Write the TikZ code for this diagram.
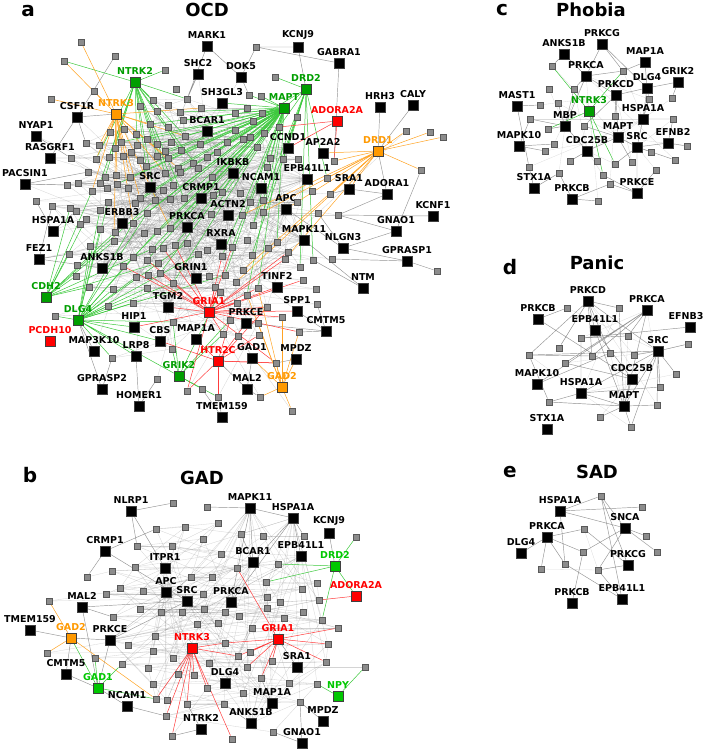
\documentclass[tikz,border=0pt]{standalone}
\usepackage{fontspec}
\setsansfont{DejaVu Sans}
\usepackage{tikz}
\usetikzlibrary{backgrounds}
\definecolor{nodegreen}{HTML}{009E00}
\definecolor{litegreen}{HTML}{00C800}
\definecolor{nodeorange}{HTML}{FF9900}
\definecolor{nodered}{HTML}{FF0000}
\definecolor{edgegreen}{HTML}{3CC83C}
\definecolor{edgeorange}{HTML}{FFA324}
\definecolor{edgered}{HTML}{FF3C3C}
% gray partner genes, x/y in pixels
\newcommand{\ocdgray}{81/42,256/47,115/56,64/61,165/70,275/77,176/89,94/91,249/95,261/96,
51/99,153/100,187/99,168/105,140/106,157/111,201/108,247/108,180/112,235/113,262/113,297/117,
183/120,253/121,150/124,168/127,279/127,124/129,110/132,235/130,264/133,136/134,185/136,250/137,
147/139,243/139,121/142,171/142,227/142,86/143,99/145,137/145,157/144,200/144,115/148,257/147,165/151,181/150,217/152,131/152,
157/156,123/156,168/158,109/157,207/157,71/158,96/159,140/160,270/158,283/159,298/159,193/163,146/166,267/167,178/168,198/168,
88/172,116/175,165/173,180/172,212/177,105/177,130/177,78/183,100/183,67/185,117/184,173/185,
107/188,163/190,92/191,128/188,222/192,240/193,312/191,330/194,184/198,213/195,140/198,155/200,170/199,263/200,
36/201,108/202,135/203,250/202,297/202,52/206,70/208,100/210,76/211,263/212,147/213,318/213,211/214,242/215,338/215,
86/219,133/223,80/224,253/225,100/229,170/228,115/232,157/231,144/233,
114/241,187/243,175/245,247/240,277/242,163/248,152/249,268/248,232/247,207/250,90/246,288/252,69/254,198/254,222/256,252/255,
133/257,285/259,313/260,332/259,147/260,158/263,77/265,123/266,300/267,243/270,
160/273,209/276,225/275,148/275,76/276,136/277,303/280,236/282,173/283,215/287,89/287,147/288,258/288,316/289,113/289,220/292,
247/295,133/303,237/303,317/304,108/306,267/307,55/316,173/322,282/317,230/320,
258/323,223/334,238/336,259/335,299/332,172/349,112/358,276/363,
157/379,202/389,187/391,218/397,260/397,292/411,
334/161,327/178,406/131,430/132,443/137,421/170,437/271}
\newcommand{\gadgray}{173/503,207/507,218/523,156/529,185/527,241/534,263/536,304/536,356/537,203/539,137/546,172/546,221/554,
135/567,237/568,278/564,112/571,87/577,191/577,212/577,266/582,317/583,120/588,143/591,302/589,203/594,106/594,267/597,
49/601,280/602,319/600,140/609,204/609,161/612,182/612,225/612,267/608,303/612,113/617,239/616,284/618,322/620,197/624,
218/623,252/628,338/628,155/636,225/643,128/645,328/644,153/651,250/652,47/653,238/656,95/658,173/658,272/661,209/663,
326/662,122/664,247/667,365/667,148/668,178/674,194/675,261/678,153/684,289/683,317/684,207/688,243/693,156/699,167/700,
300/702,187/704,224/704,166/716,273/732,172/736,232/739}
\newcommand{\phogray}{552/66,623/71,549/89,574/89,540/105,558/103,649/99,672/98,530/119,548/129,584/126,615/116,673/119,
554/144,545/151,570/161,597/161,615/164,632/162,651/152,675/160,687/146,529/167,559/173,603/175,610/184,656/170,598/201}
\newcommand{\pangray}{567/308,619/308,581/338,628/336,559/348,688/344,529/355,592/356,610/353,634/355,565/363,676/374,
660/387,549/402,657/405,600/417,631/427}
\newcommand{\sadgray}{601/496,642/507,584/529,646/536,657/552,583/552,565/564,541/569,598/570}
% hub -> partner edges picked by a condition on \x, \y, \i
\newcommand{\hubfan}[5]{%
  \foreach \x/\y [count=\i] in #1 {%
    \pgfmathtruncatemacro\fanok{#5}%
    \ifnum\fanok=1 \draw[#4] (#3) -- (#2\i);\fi}}

\begin{document}
\begin{tikzpicture}[x=1pt,y=-1pt,
  sq/.style={draw=black!75,line width=0.5pt,minimum size=10pt,inner sep=0pt},
  glab/.style={font=\sffamily\bfseries\fontsize{9.5}{10}\selectfont,inner sep=1.8pt},
  gene/.style={sq,fill=black,label={[glab]above:#1}},
  ggene/.style={sq,fill=nodegreen,label={[glab,text=nodegreen]above:#1}},
  lgene/.style={sq,fill=litegreen,label={[glab,text=litegreen]above:#1}},
  ogene/.style={sq,fill=nodeorange,label={[glab,text=nodeorange]above:#1}},
  rgene/.style={sq,fill=nodered,label={[glab,text=nodered]above:#1}},
  gnode/.style={draw=black!65,fill=black!45,line width=0.4pt,minimum size=6.5pt,inner sep=0pt},
  plabel/.style={font=\sffamily\bfseries\fontsize{20}{22}\selectfont,inner sep=0pt},
  heading/.style={font=\sffamily\bfseries\fontsize{18}{20}\selectfont,inner sep=0pt},
  web/.style={draw=black!70,line width=0.3pt,opacity=0.24},
  faint/.style={draw=black!40,line width=0.3pt,opacity=0.35},
  link/.style={draw=black!42,line width=0.45pt},
  gedge/.style={draw=edgegreen,line width=0.5pt},
  oedge/.style={draw=edgeorange,line width=0.5pt},
  redge/.style={draw=edgered,line width=0.5pt}
]
\useasboundingbox (0,0) rectangle (708,750);

% ---------- a: OCD
\node[plabel] (la) at (28,11) {a};
\node[heading] (ta) at (207,10) {OCD};
\node[gene=MARK1] (aMARK1) at (207,46) {};
\node[gene=SHC2] (aSHC2) at (198,74) {};
\node[gene=DOK5] (aDOK5) at (241,77) {};
\node[gene=KCNJ9] (aKCNJ9) at (298,47) {};
\node[gene=GABRA1] (aGABRA1) at (339,63) {};
\node[gene=SH3GL3] (aSH3GL3) at (222,103) {};
\node[gene=CSF1R] (aCSF1R) at (77,117) {};
\node[gene=NYAP1] (aNYAP1) at (36,136) {};
\node[gene=RASGRF1] (aRASGRF1) at (50,158) {};
\node[gene=PACSIN1] (aPACSIN1) at (25,184) {};
\node[gene=BCAR1,alias=ah4] (aBCAR1) at (207,131) {};
\node[gene=HRH3] (aHRH3) at (380,107) {};
\node[gene=CALY] (aCALY) at (413,105) {};
\node[gene=CCND1,alias=ah13] (aCCND1) at (288,148) {};
\node[gene=AP2A2] (aAP2A2) at (323,153) {};
\node[gene=IKBKB,alias=ah5] (aIKBKB) at (233,173) {};
\node[gene=EPB41L1,alias=ah12] (aEPB41L1) at (307,179) {};
\node[gene=SRC,alias=ah0] (aSRC) at (150,187) {};
\node[gene=NCAM1,alias=ah6] (aNCAM1) at (261,188) {};
\node[gene=SRA1] (aSRA1) at (349,189) {};
\node[gene=ADORA1] (aADORA1) at (387,194) {};
\node[gene=CRMP1,alias=ah2] (aCRMP1) at (201,198) {};
\node[gene=APC,alias=ah10] (aAPC) at (286,209) {};
\node[gene=ACTN2,alias=ah7] (aACTN2) at (228,215) {};
\node[gene=KCNF1] (aKCNF1) at (433,216) {};
\node[gene=ERBB3,alias=ah3] (aERBB3) at (122,223) {};
\node[gene=PRKCA,alias=ah1] (aPRKCA) at (187,227) {};
\node[gene=HSPA1A] (aHSPA1A) at (53,231) {};
\node[gene=GNAO1] (aGNAO1) at (396,231) {};
\node[gene=MAPK11,alias=ah11] (aMAPK11) at (304,240) {};
\node[gene=RXRA,alias=ah8] (aRXRA) at (221,244) {};
\node[gene=NLGN3] (aNLGN3) at (343,248) {};
\node[gene=FEZ1] (aFEZ1) at (39,259) {};
\node[gene=GPRASP1] (aGPRASP1) at (407,261) {};
\node[gene=ANKS1B,alias=ah14] (aANKS1B) at (102,268) {};
\node[sq,fill=black,alias=ah9,label={[glab,xshift=-5pt]above:GRIN1}] (aGRIN1) at (196,278) {};
\node[gene=TINF2] (aTINF2) at (277,287) {};
\node[gene=NTM] (aNTM) at (363,288) {};
\node[gene=TGM2,alias=ah15] (aTGM2) at (168,307) {};
\node[gene=SPP1] (aSPP1) at (297,311) {};
\node[gene=PRKCE] (aPRKCE) at (246,323) {};
\node[gene=HIP1] (aHIP1) at (134,327) {};
\node[gene=CMTM5] (aCMTM5) at (326,331) {};
\node[gene=CBS] (aCBS) at (160,341) {};
\node[gene=MAP1A] (aMAP1A) at (196,339) {};
\node[gene=MAP3K10] (aMAP3K10) at (94,351) {};
\node[gene=LRP8] (aLRP8) at (136,356) {};
\node[gene=GAD1] (aGAD1) at (252,358) {};
\node[gene=MPDZ] (aMPDZ) at (296,359) {};
\node[gene=GPRASP2] (aGPRASP2) at (102,389) {};
\node[gene=MAL2] (aMAL2) at (247,389) {};
\node[gene=HOMER1] (aHOMER1) at (139,406) {};
\node[gene=TMEM159] (aTMEM159) at (222,417) {};
\node[ggene=NTRK2] (aNTRK2) at (135,82) {};
\node[ogene=NTRK3] (aNTRK3) at (116,114) {};
\node[ggene=DRD2] (aDRD2) at (306,89) {};
\node[ggene=MAPT] (aMAPT) at (284,108) {};
\node[rgene=ADORA2A] (aADORA2A) at (337,121) {};
\node[ogene=DRD1] (aDRD1) at (378,151) {};
\node[ggene=CDH2] (aCDH2) at (46,297) {};
\node[rgene=GRIA1] (aGRIA1) at (209,312) {};
\node[ggene=DLG4] (aDLG4) at (78,320) {};
\node[rgene=PCDH10] (aPCDH10) at (50,341) {};
\node[rgene=HTR2C] (aHTR2C) at (218,361) {};
\node[ggene=GRIK2] (aGRIK2) at (179,376) {};
\node[ogene=GAD2] (aGAD2) at (282,387) {};
\foreach \x/\y [count=\i] in \ocdgray {\node[gnode,alias=o-\x-\y] (o\i) at (\x,\y) {}; \xdef\ocdN{\i}}

% ---------- b: GAD
\node[plabel] (lb) at (30,475) {b};
\node[heading] (tb) at (202,478) {GAD};
\node[gene=NLRP1] (bNLRP1) at (131,511) {};
\node[gene=CRMP1] (bCRMP1) at (105,551) {};
\node[gene=ITPR1,alias=bh3] (bITPR1) at (165,568) {};
\node[gene=APC,alias=bh1] (bAPC) at (166,592) {};
\node[gene=SRC,alias=bh0] (bSRC) at (187,601) {};
\node[gene=PRKCA,alias=bh2] (bPRKCA) at (231,602) {};
\node[gene=MAL2] (bMAL2) at (82,607) {};
\node[gene=TMEM159] (bTMEM159) at (30,630) {};
\node[gene=PRKCE,alias=bh11] (bPRKCE) at (110,640) {};
\node[gene=CMTM5] (bCMTM5) at (66,674) {};
\node[gene=NCAM1] (bNCAM1) at (127,706) {};
\node[gene=DLG4,alias=bh8] (bDLG4) at (225,683) {};
\node[gene=NTRK2] (bNTRK2) at (201,729) {};
\node[gene=MAPK11,alias=bh5] (bMAPK11) at (250,508) {};
\node[gene=HSPA1A,alias=bh6] (bHSPA1A) at (293,518) {};
\node[gene=KCNJ9] (bKCNJ9) at (329,533) {};
\node[gene=BCAR1,alias=bh4] (bBCAR1) at (253,562) {};
\node[gene=EPB41L1,alias=bh7] (bEPB41L1) at (301,556) {};
\node[gene=SRA1] (bSRA1) at (297,667) {};
\node[gene=MAP1A,alias=bh9] (bMAP1A) at (272,703) {};
\node[gene=ANKS1B,alias=bh10] (bANKS1B) at (251,723) {};
\node[gene=MPDZ] (bMPDZ) at (323,721) {};
\node[gene=GNAO1] (bGNAO1) at (302,743) {};
\node[ogene=GAD2] (bGAD2) at (71,638) {};
\node[rgene=NTRK3] (bNTRK3) at (192,648) {};
\node[lgene=GAD1] (bGAD1) at (98,688) {};
\node[lgene=DRD2] (bDRD2) at (335,566) {};
\node[rgene=ADORA2A] (bADORA2A) at (356,596) {};
\node[rgene=GRIA1] (bGRIA1) at (278,639) {};
\node[lgene=NPY] (bNPY) at (338,696) {};
\foreach \x/\y [count=\i] in \gadgray {\node[gnode,alias=p-\x-\y] (p\i) at (\x,\y) {}; \xdef\gadN{\i}}

% ---------- c: Phobia
\node[plabel] (lc) at (502,10) {c};
\node[heading] (tc) at (591,10) {Phobia};
\node[gene=PRKCG] (cPRKCG) at (602,44) {};
\node[gene=ANKS1B] (cANKS1B) at (564,54) {};
\node[gene=MAP1A] (cMAP1A) at (645,62) {};
\node[gene=PRKCA,alias=ch0] (cPRKCA) at (586,76) {};
\node[gene=DLG4] (cDLG4) at (647,88) {};
\node[gene=GRIK2] (cGRIK2) at (678,82) {};
\node[gene=PRKCD,alias=ch1] (cPRKCD) at (616,95) {};
\node[gene=MAST1] (cMAST1) at (517,106) {};
\node[gene=HSPA1A,alias=ch6] (cHSPA1A) at (643,119) {};
\node[gene=MBP,alias=ch2] (cMBP) at (565,126) {};
\node[gene=MAPT,alias=ch3] (cMAPT) at (618,137) {};
\node[gene=SRC,alias=ch4] (cSRC) at (637,147) {};
\node[sq,fill=black,label={[glab,xshift=5pt]above:EFNB2}] (cEFNB2) at (668,143) {};
\node[gene=MAPK10] (cMAPK10) at (519,146) {};
\node[gene=CDC25B,alias=ch5] (cCDC25B) at (587,151) {};
\node[gene=STX1A] (cSTX1A) at (534,188) {};
\node[gene=PRKCB] (cPRKCB) at (572,199) {};
\node[gene=PRKCE] (cPRKCE) at (637,193) {};
\node[ggene=NTRK3] (cNTRK3) at (589,111) {};
\foreach \x/\y [count=\i] in \phogray {\node[gnode,alias=q-\x-\y] (q\i) at (\x,\y) {};}

% ---------- d: Panic
\node[plabel] (ld) at (510,267) {d};
\node[heading] (td) at (597,263) {Panic};
\node[gene=PRKCD,alias=dh0] (dPRKCD) at (588,301) {};
\node[gene=PRKCB] (dPRKCB) at (538,319) {};
\node[gene=PRKCA,alias=dh1] (dPRKCA) at (647,310) {};
\node[gene=EPB41L1] (dEPB41L1) at (595,330) {};
\node[sq,fill=black,label={[glab,xshift=-4pt]above:EFNB3}] (dEFNB3) at (690,327) {};
\node[gene=SRC,alias=dh2] (dSRC) at (658,351) {};
\node[gene=MAPK10] (dMAPK10) at (537,384) {};
\node[gene=CDC25B] (dCDC25B) at (632,379) {};
\node[gene=HSPA1A,alias=dh4] (dHSPA1A) at (581,393) {};
\node[gene=MAPT,alias=dh3] (dMAPT) at (624,406) {};
\node[gene=STX1A] (dSTX1A) at (547,429) {};
\foreach \x/\y [count=\i] in \pangray {\node[gnode,alias=r-\x-\y] (r\i) at (\x,\y) {};}

% ---------- e: SAD
\node[plabel] (le) at (510,472) {e};
\node[heading] (te) at (597,472) {SAD};
\node[gene=HSPA1A] (eHSPA1A) at (560,511) {};
\node[gene=PRKCA] (ePRKCA) at (547,537) {};
\node[gene=DLG4] (eDLG4) at (521,553) {};
\node[gene=SNCA] (eSNCA) at (625,528) {};
\node[gene=PRKCG] (ePRKCG) at (628,565) {};
\node[gene=PRKCB] (ePRKCB) at (572,603) {};
\node[gene=EPB41L1] (eEPB41L1) at (622,599) {};
\foreach \x/\y [count=\i] in \sadgray {\node[gnode,alias=s-\x-\y] (s\i) at (\x,\y) {};}

\begin{pgfonlayer}{background}
% OCD web
\foreach \x/\y [count=\i] in \ocdgray {
  \pgfmathtruncatemacro\incore{((\x-180)/135)*((\x-180)/135)+((\y-220)/130)*((\y-220)/130)<1}
  \ifnum\incore=1
    \pgfmathtruncatemacro\ha{mod(7*\i,16)}
    \pgfmathtruncatemacro\hb{mod(11*\i+5,16)}
    \pgfmathtruncatemacro\hc{mod(3*\i+9,16)}
    \pgfmathtruncatemacro\j{\i+1}
    \pgfmathtruncatemacro\k{\i+11}
    \draw[web] (o\i) -- (ah\ha) (o\i) -- (ah\hb) (o\i) -- (ah\hc);
    \ifnum\j<\ocdN \draw[web] (o\i) -- (o\j);\fi
    \ifnum\k<\ocdN \draw[web] (o\i) -- (o\k);\fi
  \fi
}
\draw[link] (aMARK1) -- (aDOK5) (aMARK1) -- (o-187-99)
  (o-256-47) -- (aKCNJ9) (o-256-47) -- (aGABRA1) (o-256-47) -- (aDOK5)
  (aKCNJ9) -- (aDRD2) (aGABRA1) -- (o-334-161)
  (aHRH3) -- (aDRD1) (aCALY) -- (aDRD1) (aDRD1) -- (aADORA1)
  (aKCNF1) -- (o-338-215) (aGNAO1) -- (o-338-215) (aGNAO1) -- (aNLGN3) (aGNAO1) -- (o-421-170)
  (aGPRASP1) -- (o-437-271) (aGPRASP1) -- (o-332-259) (aGPRASP1) -- (aNLGN3)
  (aNTM) -- (aMAPK11) (aNTM) -- (o-313-260)
  (aCMTM5) -- (o-299-332) (aCMTM5) -- (aSPP1) (aCMTM5) -- (o-317-304) (aCMTM5) -- (aPRKCE)
  (aADORA1) -- (o-338-215) (aADORA1) -- (aSRA1) (aSRA1) -- (o-330-194)
  (aNLGN3) -- (o-318-213) (aNLGN3) -- (aAPC)
  (aSHC2) -- (o-187-99) (aDOK5) -- (o-249-95)
  (aCSF1R) -- (aNTRK3) (aCSF1R) -- (o-86-143) (aCSF1R) -- (o-115-56)
  (aNYAP1) -- (o-71-158) (aRASGRF1) -- (o-71-158) (aRASGRF1) -- (aCSF1R)
  (aPACSIN1) -- (o-67-185) (aPACSIN1) -- (o-88-172)
  (aHSPA1A) -- (o-76-211) (aHSPA1A) -- (o-36-201)
  (aFEZ1) -- (o-69-254) (aFEZ1) -- (aANKS1B) (aFEZ1) -- (o-52-206)
  (aGPRASP2) -- (o-112-358) (aGPRASP2) -- (aDLG4) (aHOMER1) -- (o-157-379) (aHOMER1) -- (aLRP8)
  (aTMEM159) -- (o-218-397) (aTMEM159) -- (o-202-389) (aMAL2) -- (o-260-397) (aMAL2) -- (aHTR2C)
  (aMAL2) -- (aGAD1) (aMAP3K10) -- (aDLG4) (aMPDZ) -- (o-276-363);
\draw[web] (aSHC2) -- (aSRC) (aSHC2) -- (aBCAR1) (aDOK5) -- (aBCAR1) (aSH3GL3) -- (aSRC)
  (aCSF1R) -- (aSRC) (aNYAP1) -- (aSRC) (aRASGRF1) -- (aSRC) (aPACSIN1) -- (aSRC)
  (aPACSIN1) -- (aERBB3) (aHSPA1A) -- (aERBB3) (aHSPA1A) -- (aSRC) (aFEZ1) -- (aPRKCA)
  (aMAP3K10) -- (aSRC) (aLRP8) -- (aSRC) (aHIP1) -- (aPRKCA) (aCBS) -- (aPRKCA)
  (aMAP1A) -- (aSRC) (aGAD1) -- (aPRKCA) (aSPP1) -- (aPRKCA) (aTINF2) -- (aSRC);
\draw[gedge] (aNTRK2) -- (o-64-61) (aNTRK2) -- (o-165-70) (aNTRK2) -- (o-187-99);
\hubfan{\ocdgray}{o}{aNTRK2}{gedge}{\x>95 && \x<210 && \y>95 && \y<230 && mod(\i,3)==0}
\draw[oedge] (aNTRK3) -- (o-81-42) (aNTRK3) -- (o-64-61) (aNTRK3) -- (o-94-91) (aNTRK3) -- (o-51-99) (aNTRK3) -- (o-201-108);
\hubfan{\ocdgray}{o}{aNTRK3}{oedge}{\x>80 && \x<200 && \y>115 && \y<245 && mod(\i,4)==1}
\draw[gedge] (aMAPT) -- (o-249-95) (aMAPT) -- (o-261-96) (aMAPT) -- (aSH3GL3) (aMAPT) -- (o-180-112);
\hubfan{\ocdgray}{o}{aMAPT}{gedge}{\x>115 && \x<285 && \y>112 && \y<300 && mod(\i,2)==1}
\draw[gedge] (aDRD2) -- (o-275-77) (aDRD2) -- (aMAPT) (aDRD2) -- (o-297-117) (aDRD2) -- (o-327-178) (aDRD2) -- (aCCND1);
\hubfan{\ocdgray}{o}{aDRD2}{gedge}{\x>250 && \x<330 && \y>120 && \y<270 && mod(\i,3)==0}
\draw[redge] (aADORA2A) -- (o-334-161) (aADORA2A) -- (aCCND1) (aADORA2A) -- (o-279-127);
\draw[oedge] (aDRD1) -- (o-406-131) (aDRD1) -- (o-430-132) (aDRD1) -- (o-443-137) (aDRD1) -- (o-421-170)
  (aDRD1) -- (aAP2A2) (aDRD1) -- (o-334-161) (aDRD1) -- (o-327-178) (aDRD1) -- (aSRA1) (aDRD1) -- (aAPC);
\hubfan{\ocdgray}{o}{aDRD1}{oedge}{\x>225 && \x<340 && \y>170 && \y<290 && mod(\i,4)==2}
\hubfan{\ocdgray}{o}{aCDH2}{gedge}{\x>55 && \x<175 && \y>185 && \y<310 && mod(\i,3)==0}
\draw[gedge] (aDLG4) -- (aGRIK2) (aDLG4) -- (aCBS) (aDLG4) -- (aLRP8) (aDLG4) -- (aHIP1) (aDLG4) -- (o-55-316);
\hubfan{\ocdgray}{o}{aDLG4}{gedge}{\x>80 && \x<230 && \y>200 && \y<370 && mod(\i,3)==1}
\hubfan{\ocdgray}{o}{aGRIK2}{gedge}{\x>140 && \x<240 && \y>290 && \y<400 && mod(\i,2)==0}
\draw[redge] (aGRIA1) -- (aTINF2) (aGRIA1) -- (aSPP1) (aGRIA1) -- (aTGM2) (aGRIA1) -- (aHIP1);
\hubfan{\ocdgray}{o}{aGRIA1}{redge}{\x>120 && \x<320 && \y>235 && \y<400 && mod(\i,3)==2}
\draw[redge] (aHTR2C) -- (aMAP1A) (aHTR2C) -- (aPRKCE) (aHTR2C) -- (o-276-363) (aHTR2C) -- (aCBS) (aHTR2C) -- (o-187-391);
\hubfan{\ocdgray}{o}{aHTR2C}{redge}{\x>150 && \x<300 && \y>290 && \y<400 && mod(\i,4)==0}
\draw[oedge] (aGAD2) -- (o-260-397) (aGAD2) -- (o-292-411) (aGAD2) -- (o-276-363) (aGAD2) -- (aMPDZ) (aGAD2) -- (aGAD1);
\hubfan{\ocdgray}{o}{aGAD2}{oedge}{\x>240 && \x<320 && \y>280 && \y<340 && mod(\i,2)==1}

% GAD web
\foreach \x/\y [count=\i] in \gadgray {
  \pgfmathtruncatemacro\incore{((\x-215)/125)*((\x-215)/125)+((\y-625)/115)*((\y-625)/115)<1}
  \ifnum\incore=1
    \pgfmathtruncatemacro\ha{mod(5*\i,12)}
    \pgfmathtruncatemacro\hb{mod(7*\i+4,12)}
    \pgfmathtruncatemacro\j{\i+1}
    \pgfmathtruncatemacro\k{\i+9}
    \draw[web] (p\i) -- (bh\ha) (p\i) -- (bh\hb);
    \ifnum\j<\gadN \draw[web] (p\i) -- (p\j);\fi
    \ifnum\k<\gadN \draw[web] (p\i) -- (p\k);\fi
  \fi
}
\draw[link] (bNLRP1) -- (p-173-503) (bNLRP1) -- (p-137-546) (bNLRP1) -- (bITPR1)
  (bCRMP1) -- (p-87-577) (bCRMP1) -- (p-156-529) (bCRMP1) -- (bSRC)
  (bTMEM159) -- (bGAD2) (bMAL2) -- (p-113-617) (bMAL2) -- (bGAD1) (bMAL2) -- (bSRC)
  (bPRKCE) -- (bGAD2) (bPRKCE) -- (bSRC) (bPRKCE) -- (bGAD1) (bCMTM5) -- (bGAD1) (bCMTM5) -- (bGAD2)
  (bNCAM1) -- (p-166-716) (bNCAM1) -- (bGAD1) (bKCNJ9) -- (bDRD2)
  (bMPDZ) -- (p-300-702) (bGNAO1) -- (p-300-702) (bGNAO1) -- (p-273-732)
  (bNTRK2) -- (p-172-736) (bNTRK2) -- (p-187-704) (bANKS1B) -- (p-224-704)
  (bMAPK11) -- (p-207-507) (bMAPK11) -- (bHSPA1A) (bHSPA1A) -- (p-304-536) (bHSPA1A) -- (bEPB41L1)
  (bSRA1) -- (bGRIA1) (bMAP1A) -- (p-261-678) (bBCAR1) -- (p-241-534)
  (bMAPK11) -- (bBCAR1) (bMAPK11) -- (bPRKCA) (bHSPA1A) -- (bPRKCA) (bHSPA1A) -- (bBCAR1);
\draw[gedge] (bDRD2) -- (p-356-537) (bDRD2) -- (p-278-564) (bDRD2) -- (p-266-582) (bDRD2) -- (bADORA2A) (bDRD2) -- (p-322-620);
\draw[redge] (bADORA2A) -- (p-319-600);
\draw[gedge] (bNPY) -- (p-365-667) (bNPY) -- (p-317-684);
\draw[oedge] (bGAD2) -- (p-49-601) (bGAD2) -- (p-47-653) (bGAD2) -- (p-156-699);
\draw[gedge] (bGAD1) -- (bGAD2) (bGAD1) -- (p-95-658) (bGAD1) -- (p-122-664) (bGAD1) -- (p-156-699);
\draw[redge] (bNTRK3) -- (p-172-736) (bNTRK3) -- (p-166-716) (bNTRK3) -- (p-156-699) (bNTRK3) -- (p-187-704)
  (bNTRK3) -- (p-207-688) (bNTRK3) -- (p-178-674) (bNTRK3) -- (p-194-675) (bNTRK3) -- (p-232-739)
  (bNTRK3) -- (p-238-656) (bNTRK3) -- (p-225-643);
\draw[redge] (bGRIA1) -- (p-237-568) (bGRIA1) -- (p-338-628) (bGRIA1) -- (p-328-644) (bGRIA1) -- (p-326-662)
  (bGRIA1) -- (p-272-661) (bGRIA1) -- (p-261-678) (bGRIA1) -- (p-250-652) (bGRIA1) -- (p-238-656)
  (bGRIA1) -- (p-225-643) (bGRIA1) -- (p-247-667);

% Phobia
\foreach \x/\y [count=\i] in \phogray {
  \pgfmathtruncatemacro\ha{mod(3*\i,7)}
  \draw[faint] (q\i) -- (ch\ha);
}
\draw[link] (cPRKCG) -- (q-623-71) (cPRKCG) -- (cPRKCA) (cPRKCG) -- (cDLG4) (cANKS1B) -- (q-552-66) (cANKS1B) -- (cPRKCA)
  (cMAP1A) -- (cDLG4) (cMAP1A) -- (q-623-71) (cGRIK2) -- (cDLG4) (cGRIK2) -- (q-672-98)
  (cPRKCA) -- (q-574-89) (cPRKCA) -- (cPRKCD) (cPRKCA) -- (cMBP) (cPRKCA) -- (q-623-71)
  (cDLG4) -- (q-649-99) (cDLG4) -- (cPRKCD) (cDLG4) -- (cHSPA1A)
  (cMAST1) -- (q-540-105) (cMAST1) -- (q-529-167) (cPRKCD) -- (q-615-116) (cPRKCD) -- (cMAPT)
  (cHSPA1A) -- (cSRC) (cHSPA1A) -- (q-673-119) (cHSPA1A) -- (q-649-99)
  (cMBP) -- (q-548-129) (cMBP) -- (q-558-103) (cMBP) -- (cCDC25B) (cMBP) -- (q-530-119)
  (cMAPT) -- (cSRC) (cMAPT) -- (cCDC25B) (cMAPT) -- (q-632-162)
  (cSRC) -- (cEFNB2) (cSRC) -- (q-651-152) (cSRC) -- (cPRKCE) (cEFNB2) -- (q-687-146) (cEFNB2) -- (q-673-119)
  (cMAPK10) -- (q-554-144) (cMAPK10) -- (q-530-119) (cMAPK10) -- (q-545-151)
  (cCDC25B) -- (q-570-161) (cCDC25B) -- (q-597-161) (cSTX1A) -- (q-559-173) (cSTX1A) -- (q-529-167)
  (cPRKCB) -- (q-598-201) (cPRKCB) -- (q-559-173) (cPRKCB) -- (q-610-184)
  (cPRKCE) -- (q-610-184) (cPRKCE) -- (q-656-170) (cPRKCE) -- (q-603-175)
  (q-584-126) -- (cPRKCD) (q-584-126) -- (cMAPT) (q-574-89) -- (cMBP) (q-615-164) -- (cSRC) (q-675-160) -- (cSRC);
\draw[gedge] (cNTRK3) -- (q-552-66) (cNTRK3) -- (q-623-71) (cNTRK3) -- (q-548-129) (cNTRK3) -- (q-603-175) (cNTRK3) -- (q-615-164);

% Panic
\foreach \x/\y [count=\i] in \pangray {
  \pgfmathtruncatemacro\ha{mod(2*\i,5)}
  \draw[faint] (r\i) -- (dh\ha);
}
\draw[link] (dPRKCB) -- (r-567-308) (dPRKCB) -- (dCDC25B) (dPRKCD) -- (dEPB41L1) (dPRKCD) -- (r-619-308)
  (dPRKCD) -- (r-592-356) (dPRKCD) -- (r-610-353) (dPRKCD) -- (dSRC) (dPRKCD) -- (r-529-355) (dPRKCD) -- (r-559-348)
  (dPRKCA) -- (r-628-336) (dPRKCA) -- (r-592-356) (dPRKCA) -- (dMAPK10) (dPRKCA) -- (r-565-363) (dPRKCA) -- (dMAPT)
  (r-619-308) -- (dMAPT) (dEPB41L1) -- (dMAPT) (dEPB41L1) -- (dCDC25B) (dEFNB3) -- (r-581-338)
  (dSRC) -- (r-688-344) (dSRC) -- (r-676-374) (dSRC) -- (r-660-387) (dSRC) -- (r-657-405) (dSRC) -- (dMAPT)
  (dSRC) -- (r-631-427) (dSRC) -- (r-634-355) (dSRC) -- (dHSPA1A) (dSRC) -- (r-529-355)
  (r-581-338) -- (dHSPA1A) (r-581-338) -- (r-628-336) (dMAPK10) -- (r-610-353)
  (dCDC25B) -- (r-565-363) (dCDC25B) -- (dMAPT) (dHSPA1A) -- (r-549-402) (dHSPA1A) -- (r-660-387) (dHSPA1A) -- (dMAPT)
  (r-549-402) -- (dMAPT) (r-549-402) -- (r-529-355) (dMAPT) -- (r-600-417) (dMAPT) -- (r-631-427) (dMAPT) -- (r-657-405)
  (r-592-356) -- (r-529-355);

% SAD
\draw[link] (eHSPA1A) -- (s-601-496) (eHSPA1A) -- (s-642-507) (eHSPA1A) -- (eSNCA) (eHSPA1A) -- (s-565-564)
  (s-601-496) -- (eSNCA) (s-601-496) -- (ePRKCG) (s-601-496) -- (eEPB41L1)
  (ePRKCA) -- (s-584-529) (ePRKCA) -- (eDLG4) (ePRKCA) -- (s-583-552) (ePRKCA) -- (s-541-569) (ePRKCA) -- (s-565-564)
  (s-584-529) -- (ePRKCG) (eSNCA) -- (s-646-536) (eSNCA) -- (s-657-552) (eSNCA) -- (s-598-570)
  (s-583-552) -- (ePRKCB) (s-583-552) -- (eSNCA) (s-598-570) -- (ePRKCG) (s-598-570) -- (eEPB41L1) (s-565-564) -- (eEPB41L1);
\draw[faint] (s-541-569) -- (s-598-570) (s-584-529) -- (s-598-570);
\end{pgfonlayer}
\end{tikzpicture}
\end{document}
